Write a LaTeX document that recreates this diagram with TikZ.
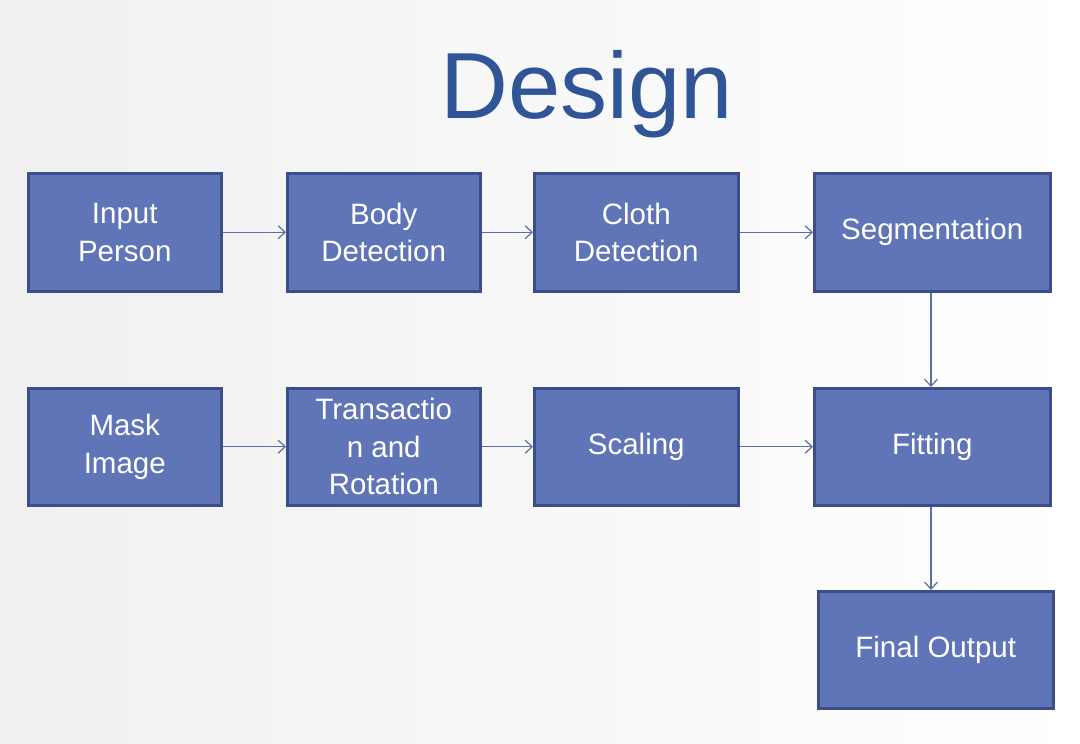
\documentclass[tikz,border=0pt]{standalone}
\usepackage{fontspec}
\setmainfont{Liberation Sans}
\usetikzlibrary{arrows.meta}
\definecolor{boxfill}{HTML}{5F75B7}
\definecolor{boxline}{HTML}{3B4E8A}
\definecolor{arrowc}{HTML}{5C70A8}
\definecolor{titlec}{HTML}{2F5597}
\begin{document}
\begin{tikzpicture}[x=1pt,y=-1pt,
  stepbox/.style={draw=boxline,line width=2.5pt,fill=boxfill,text=white,
    font=\fontsize{29.5}{37.5}\selectfont,align=center,inner sep=0pt,anchor=north west},
  flow/.style={draw=arrowc,line width=1.2pt,-{Straight Barb[length=7pt,width=13pt,line width=1.2pt]}}]
\shade[left color=black!6,right color=white] (0,0) rectangle (1080,744);
\useasboundingbox (0,0) rectangle (1080,744);
\node[font=\fontsize{94}{94}\selectfont,text=titlec,anchor=base] (title) at (587,118) {Design};
\node[stepbox,minimum width=193pt,minimum height=118pt] (in) at (27,172) {Input\\Person};
\node[stepbox,minimum width=193pt,minimum height=118pt] (body) at (286,172) {Body\\Detection};
\node[stepbox,minimum width=204pt,minimum height=118pt] (cloth) at (533,172) {Cloth\\Detection};
\node[stepbox,minimum width=236pt,minimum height=118pt] (seg) at (813,172) {Segmentation};
\node[stepbox,minimum width=193pt,minimum height=117pt] (mask) at (27,387) {Mask\\Image};
\node[stepbox,minimum width=193pt,minimum height=117pt] (trans) at (286,387) {Transactio\\n and\\Rotation};
\node[stepbox,minimum width=204pt,minimum height=117pt] (scal) at (533,387) {Scaling};
\node[stepbox,minimum width=236pt,minimum height=117pt] (fit) at (813,387) {Fitting};
\node[stepbox,minimum width=235pt,minimum height=117pt] (final) at (817,590) {Final Output};
\draw[flow] (in) -- (body);
\draw[flow] (body) -- (cloth);
\draw[flow] (cloth) -- (seg);
\draw[flow] (mask) -- (trans);
\draw[flow] (trans) -- (scal);
\draw[flow] (scal) -- (fit);
\draw[flow] (seg.south -| 931,0) -- (fit.north -| 931,0);
\draw[flow] (fit.south -| 931,0) -- (final.north -| 931,0);
\end{tikzpicture}
\end{document}
